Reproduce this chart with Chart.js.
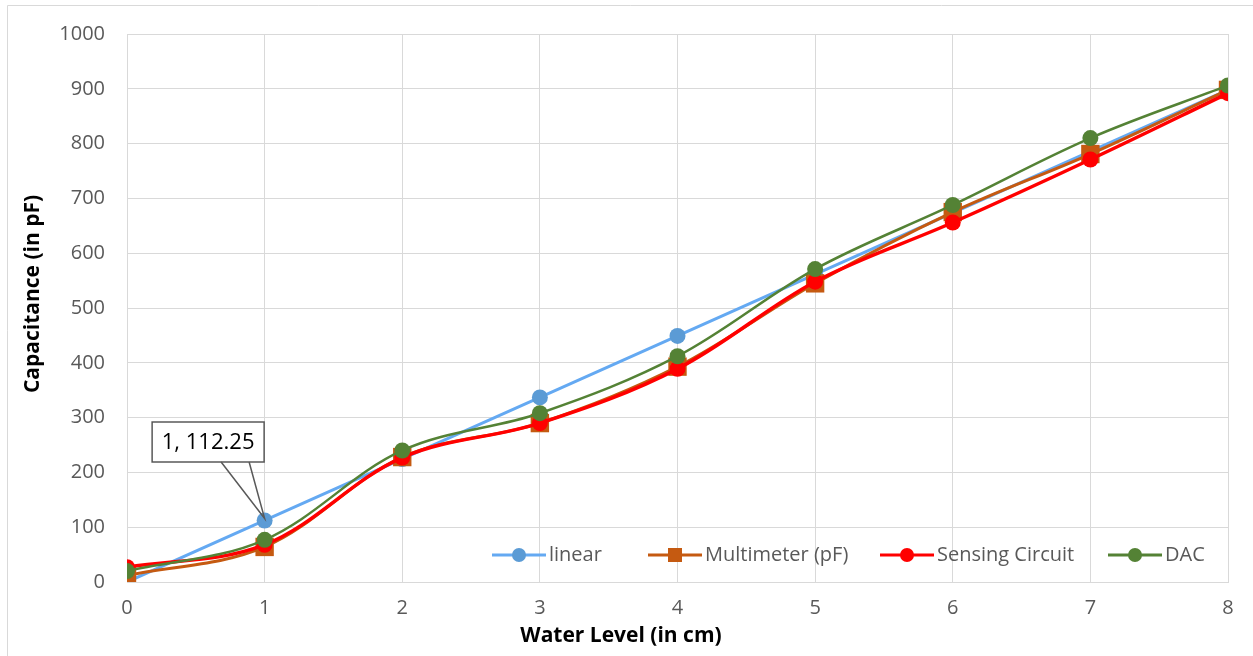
<!DOCTYPE html>
<html>
<head>
<meta charset="utf-8">
<script src="https://cdn.jsdelivr.net/npm/chart.js@4/dist/chart.umd.min.js"></script>
<style>
  html, body { margin: 0; padding: 0; background: #ffffff; }
  #wrap { width: 1253px; height: 656px; }
</style>
</head>
<body>
<div id="wrap"><canvas id="chart" width="1253" height="656"></canvas></div>
<script>
// Water level (cm) against measured capacitance (pF)
const waterLevel   = [0, 1, 2, 3, 4, 5, 6, 7, 8];
const linearPF     = [0, 112.25, 224.5, 336.75, 449, 561.25, 673.5, 785.75, 898];
const multimeterPF = [12, 64, 228, 290, 393, 545, 675, 781, 898];
const sensingPF    = [27, 68, 227, 290, 389, 548, 656, 771, 892];
const dacPF        = [20, 77, 240, 308, 412, 571, 688, 810, 906];

const seriesNames  = ['linear', 'Multimeter (pF)', 'Sensing Circuit', 'DAC'];
const yTicks       = [0, 100, 200, 300, 400, 500, 600, 700, 800, 900, 1000];
const xTitle       = 'Water Level (in cm)';
const yTitle       = 'Capacitance (in pF)';
const calloutIndex = 1;

const FONT = '"Open Sans", "DejaVu Sans", sans-serif';
const GRID = '#d9d9d9';
const TEXT = '#595959';

const toPoints = vals => waterLevel.map((x, i) => ({ x: x, y: vals[i] }));

const datasets = [
  {
    label: seriesNames[0], data: toPoints(linearPF),
    borderColor: '#64a9f2', backgroundColor: '#5b9bd5',
    pointBackgroundColor: '#5b9bd5', pointBorderColor: '#5b9bd5',
    pointStyle: 'circle', pointRadius: 8, borderWidth: 3, tension: 0, order: 4
  },
  {
    label: seriesNames[1], data: toPoints(multimeterPF),
    borderColor: '#c55a11', backgroundColor: '#c55a11',
    pointBackgroundColor: '#c55a11', pointBorderColor: '#c55a11',
    pointStyle: 'rect', pointRadius: 13, borderWidth: 3, tension: 0.35, order: 3
  },
  {
    label: seriesNames[2], data: toPoints(sensingPF),
    borderColor: '#ff0000', backgroundColor: '#ff0000',
    pointBackgroundColor: '#ff0000', pointBorderColor: '#ff0000',
    pointStyle: 'circle', pointRadius: 8, borderWidth: 3.5, tension: 0.35, order: 2
  },
  {
    label: seriesNames[3], data: toPoints(dacPF),
    borderColor: '#548235', backgroundColor: '#548235',
    pointBackgroundColor: '#548235', pointBorderColor: '#548235',
    pointStyle: 'circle', pointRadius: 8, borderWidth: 2.5, tension: 0.35, order: 1
  }
];
datasets.forEach(d => { d.pointBorderWidth = 0; d.pointHoverRadius = d.pointRadius; d.fill = false; });

// Background, outer frame and axis titles
const framePlugin = {
  id: 'frame',
  beforeDraw(chart) {
    const c = chart.ctx;
    c.save();
    c.fillStyle = '#ffffff';
    c.fillRect(0, 0, chart.width, chart.height);
    c.strokeStyle = GRID;
    c.lineWidth = 1;
    c.beginPath();
    c.moveTo(7.5, chart.height);
    c.lineTo(7.5, 5.5);
    c.lineTo(chart.width, 5.5);
    c.stroke();
    c.restore();
  },
  afterDraw(chart) {
    const c = chart.ctx;
    c.save();
    c.fillStyle = '#000000';
    c.font = 'bold 21px ' + FONT;
    c.textAlign = 'center';
    c.textBaseline = 'middle';
    c.fillText(xTitle, 621, 636);
    c.translate(33, 294);
    c.rotate(-Math.PI / 2);
    c.fillText(yTitle, 0, 0);
    c.restore();
  }
};

// Legend drawn inside the plot, along the bottom right
const legendPlugin = {
  id: 'innerLegend',
  afterDraw(chart) {
    const c = chart.ctx;
    const starts = [492, 648, 880, 1108];
    const y = 555;
    c.save();
    c.font = '20px ' + FONT;
    c.textBaseline = 'middle';
    c.textAlign = 'left';
    chart.data.datasets.forEach((ds, i) => {
      const x0 = starts[i];
      c.strokeStyle = ds.borderColor;
      c.lineWidth = 3;
      c.beginPath();
      c.moveTo(x0, y);
      c.lineTo(x0 + 54, y);
      c.stroke();
      c.fillStyle = ds.pointBackgroundColor;
      const mx = x0 + 27;
      if (ds.pointStyle === 'rect') {
        c.fillRect(mx - 7, y - 7, 14, 14);
      } else {
        c.beginPath();
        c.arc(mx, y, 7, 0, Math.PI * 2);
        c.fill();
      }
      c.fillStyle = TEXT;
      c.fillText(ds.label, x0 + 57, y);
    });
    c.restore();
  }
};

// Callout box for one point of the linear series
const calloutPlugin = {
  id: 'callout',
  afterDraw(chart) {
    const pt = chart.getDatasetMeta(0).data[calloutIndex];
    const xv = waterLevel[calloutIndex];
    const yv = linearPF[calloutIndex];
    const label = xv + ', ' + yv;
    const c = chart.ctx;
    const bw = 112, bh = 40;
    const bx = pt.x - 112.5, by = pt.y - 98.5;
    c.save();
    c.strokeStyle = '#595959';
    c.lineWidth = 1.5;
    c.fillStyle = '#ffffff';
    c.beginPath();
    c.rect(bx, by, bw, bh);
    c.fill();
    c.stroke();
    c.beginPath();
    c.moveTo(bx + 69, by + bh);
    c.lineTo(pt.x, pt.y - 2);
    c.lineTo(bx + 97, by + bh);
    c.stroke();
    c.fillStyle = '#000000';
    c.font = '22px ' + FONT;
    c.textAlign = 'center';
    c.textBaseline = 'middle';
    c.fillText(label, bx + bw / 2, by + bh / 2 + 1);
    c.restore();
  }
};

new Chart(document.getElementById('chart'), {
  type: 'line',
  data: { datasets: datasets },
  plugins: [framePlugin, legendPlugin, calloutPlugin],
  options: {
    responsive: false,
    animation: false,
    events: [],
    layout: { padding: { top: 32, right: 25, left: 0, bottom: 0 } },
    plugins: { legend: { display: false }, tooltip: { enabled: false } },
    scales: {
      x: {
        type: 'linear',
        min: waterLevel[0],
        max: waterLevel[waterLevel.length - 1],
        afterFit(s) { s.height = 74; },
        grid: { color: GRID, lineWidth: 1, drawTicks: false },
        border: { color: GRID, width: 1 },
        ticks: { stepSize: 1, padding: 14, color: TEXT, font: { family: FONT, size: 20 },
                 callback: v => String(v) }
      },
      y: {
        type: 'linear',
        min: yTicks[0],
        max: yTicks[yTicks.length - 1],
        afterFit(s) { s.width = 127; },
        afterBuildTicks(s) { s.ticks = yTicks.map(v => ({ value: v })); },
        grid: { color: GRID, lineWidth: 1, drawTicks: false },
        border: { color: GRID, width: 1 },
        ticks: { padding: 22, color: TEXT, font: { family: FONT, size: 20 },
                 callback: v => String(v) }
      }
    }
  }
});
</script>
</body>
</html>
